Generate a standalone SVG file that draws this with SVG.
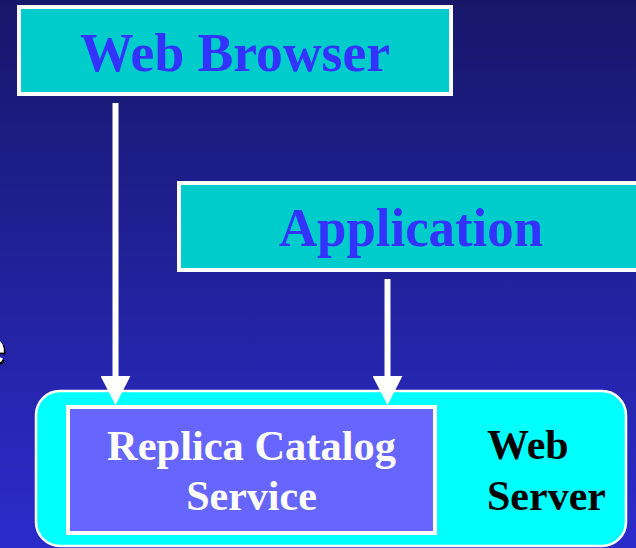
<svg xmlns="http://www.w3.org/2000/svg" width="636" height="548" viewBox="0 0 636 548">
  <defs>
    <linearGradient id="bg" x1="0" y1="0" x2="0" y2="1">
      <stop offset="0" stop-color="#17176a"/>
      <stop offset="1" stop-color="#2b2bcc"/>
    </linearGradient>
    <filter id="shadow" x="-50%" y="-50%" width="200%" height="200%">
      <feDropShadow dx="2" dy="2" stdDeviation="0" flood-color="#000000"/>
    </filter>
    <marker id="head" markerUnits="userSpaceOnUse" markerWidth="30" markerHeight="30" refX="2" refY="15" orient="auto" viewBox="0 0 30 30">
      <path d="M0,0 L29,15 L0,30 Z" fill="#ffffff"/>
    </marker>
  </defs>
  <style>
    .box { fill: #00cccc; stroke: #ffffff; stroke-width: 4; }
    .title { font-family: "Liberation Serif", "Times New Roman", serif; font-weight: bold; font-size: 55px; fill: #3333ff; text-anchor: middle; }
    .label { font-family: "Liberation Serif", "Times New Roman", serif; font-weight: bold; font-size: 42px; }
    .link { stroke: #ffffff; stroke-width: 6; fill: none; }
  </style>

  <rect x="0" y="0" width="636" height="548" fill="url(#bg)"/>

  <!-- clipped letter at the left margin -->
  <text x="-20" y="364" font-family="Liberation Sans, Arial, sans-serif" font-size="46" fill="#ffffff" filter="url(#shadow)">e</text>

  <g id="web-browser">
    <rect class="box" x="19" y="7" width="432" height="87"/>
    <text class="title" x="235" y="71" textLength="310" lengthAdjust="spacingAndGlyphs">Web Browser</text>
  </g>

  <g id="application">
    <rect class="box" x="179" y="183" width="470" height="87"/>
    <text class="title" x="411" y="246" textLength="264" lengthAdjust="spacingAndGlyphs">Application</text>
  </g>

  <g id="web-server">
    <rect x="36" y="391" width="590" height="155" rx="24" ry="24" fill="#00ffff" stroke="#ffffff" stroke-width="2.5"/>
    <text class="label" x="487" y="459" fill="#000000">Web</text>
    <text class="label" x="487" y="510" fill="#000000">Server</text>
  </g>

  <g id="replica-catalog-service">
    <rect x="68" y="407" width="367" height="126" fill="#6666ff" stroke="#ffffff" stroke-width="4"/>
    <text class="label" x="251.5" y="460" fill="#ffffff" text-anchor="middle" textLength="289" lengthAdjust="spacingAndGlyphs">Replica Catalog</text>
    <text class="label" x="251.5" y="510" fill="#ffffff" text-anchor="middle">Service</text>
  </g>

  <g id="connectors">
    <line class="link" x1="115.5" y1="103" x2="115.5" y2="378" marker-end="url(#head)"/>
    <line class="link" x1="387.5" y1="279" x2="387.5" y2="378" marker-end="url(#head)"/>
  </g>
</svg>
